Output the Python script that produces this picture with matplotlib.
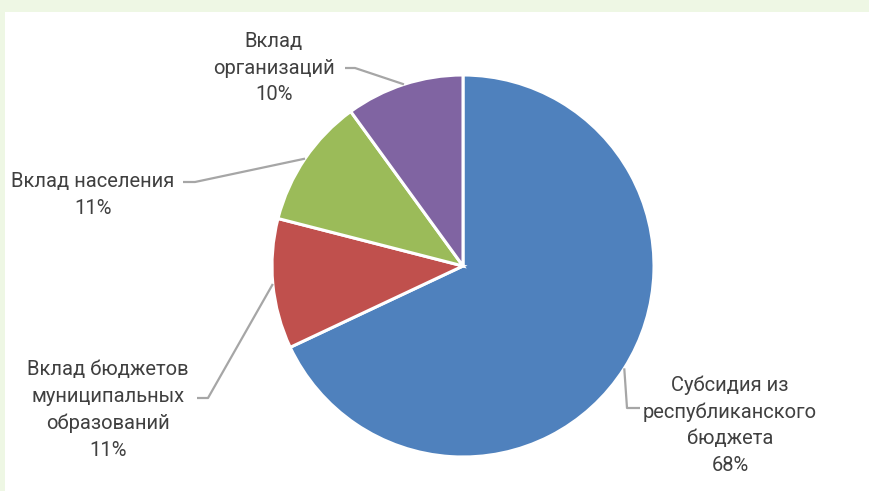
import numpy as np
import matplotlib
matplotlib.use("Agg")
import matplotlib.pyplot as plt
from matplotlib.patches import Rectangle

plt.rcParams['font.family'] = ['Roboto', 'DejaVu Sans']

# data (clockwise from 12 o'clock)
categories = ["Субсидия из\nреспубликанского\nбюджета",
              "Вклад бюджетов\nмуниципальных\nобразований",
              "Вклад населения",
              "Вклад\nорганизаций"]
shares = [68, 11, 11, 10]
colors = ["#4F81BD", "#C0504D", "#9BBB59", "#8064A2"]

W, H = 869, 491
fig = plt.figure(figsize=(W / 100, H / 100), dpi=100, facecolor="#eef7e4")
ax = fig.add_axes([0, 0, 1, 1])

# white chart panel on the slide background
ax.add_patch(Rectangle((5, 0), W - 5, H - 12, facecolor="white", edgecolor="none", zorder=0))

cx, cy, r = 463, H - 266, 191
wedges, _ = ax.pie(shares, colors=colors, startangle=90, counterclock=False,
                   center=(cx, cy), radius=r, frame=True,
                   wedgeprops=dict(edgecolor="white", linewidth=2.2))
ax.set_xlim(0, W)
ax.set_ylim(0, H)
ax.set_aspect("equal")
ax.axis("off")

# label text centre and leader elbow points (pixels from top-left)
label_pos = [(730, 425), (108, 410), (93, 195), (274, 68)]
elbows = [[(627, 408), (640, 408)],
          [(208, 398), (197, 398)],
          [(195, 182), (183, 182)],
          [(355, 68), (345, 68)]]

for w, cat, val, (lx, ly), elb in zip(wedges, categories, shares, label_pos, elbows):
    mid = np.deg2rad((w.theta1 + w.theta2) / 2)
    ax_, ay_ = cx + r * np.cos(mid), cy + r * np.sin(mid)
    xs = [ax_] + [p[0] for p in elb]
    ys = [ay_] + [H - p[1] for p in elb]
    ax.plot(xs, ys, color="#a6a6a6", lw=1.6, zorder=3, solid_capstyle="butt")
    ax.text(lx, H - ly, f"{cat}\n{val}%", ha="center", va="center",
            fontsize=14.5, color="#404040", linespacing=1.5, zorder=4)

fig.savefig("out.png", dpi=100, facecolor=fig.get_facecolor())
